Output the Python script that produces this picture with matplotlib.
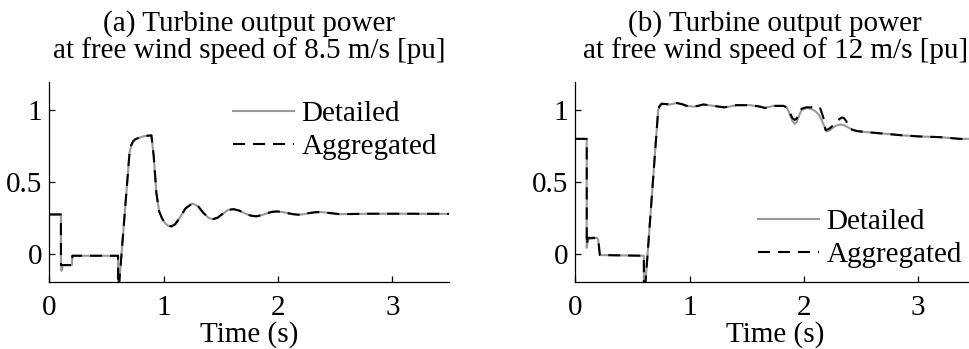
import numpy as np
import matplotlib
matplotlib.use("Agg")
import matplotlib.pyplot as plt

# ---- Panel (a): 8.5 m/s ----
t_a_det = [0, 0.1, 0.1, 0.105, 0.115, 0.196, 0.2, 0.6, 0.6005, 0.70, 0.715, 0.731, 0.75, 0.775, 0.819,
           0.86, 0.892, 0.912, 0.935, 0.959, 0.985, 1.009, 1.035, 1.067, 1.10, 1.14, 1.19, 1.25, 1.30,
           1.345, 1.39, 1.43, 1.47, 1.52, 1.565, 1.61, 1.66, 1.71, 1.76, 1.81, 1.855, 1.90, 1.945, 1.99,
           2.035, 2.08, 2.13, 2.18, 2.225, 2.27, 2.32, 2.37, 2.45, 2.54, 2.8, 3.1, 3.5]
p_a_det = [0.273, 0.273, -0.05, -0.12, -0.08, -0.08, -0.015, -0.015, -0.30, 0.70, 0.755, 0.782, 0.797, 0.805, 0.817,
           0.822, 0.824, 0.678, 0.424, 0.296, 0.245, 0.215, 0.195, 0.19, 0.205, 0.25, 0.315, 0.35, 0.33,
           0.285, 0.25, 0.24, 0.25, 0.28, 0.305, 0.31, 0.30, 0.28, 0.265, 0.26, 0.268, 0.28, 0.291, 0.294,
           0.29, 0.283, 0.275, 0.271, 0.275, 0.282, 0.288, 0.29, 0.283, 0.275, 0.278, 0.278, 0.277]

t_a_agg = [0, 0.1, 0.1, 0.196, 0.2, 0.6, 0.6005, 0.70, 0.715, 0.731, 0.75, 0.775, 0.819,
           0.86, 0.892, 0.912, 0.935, 0.959, 0.985, 1.009, 1.035, 1.067, 1.10, 1.14, 1.19, 1.25, 1.30,
           1.345, 1.39, 1.43, 1.47, 1.52, 1.565, 1.61, 1.66, 1.71, 1.76, 1.81, 1.855, 1.90, 1.945, 1.99,
           2.035, 2.08, 2.13, 2.18, 2.225, 2.27, 2.32, 2.37, 2.45, 2.54, 2.8, 3.1, 3.5]
p_a_agg = [0.273, 0.273, -0.08, -0.08, -0.015, -0.015, -0.30, 0.70, 0.755, 0.782, 0.797, 0.805, 0.817,
           0.822, 0.824, 0.678, 0.424, 0.296, 0.245, 0.215, 0.195, 0.19, 0.205, 0.25, 0.315, 0.35, 0.33,
           0.285, 0.25, 0.24, 0.25, 0.28, 0.305, 0.31, 0.30, 0.28, 0.265, 0.26, 0.268, 0.28, 0.291, 0.294,
           0.29, 0.283, 0.275, 0.271, 0.275, 0.282, 0.288, 0.29, 0.283, 0.275, 0.278, 0.278, 0.277]

# ---- Panel (b): 12 m/s ----
t_b_det = [0, 0.1, 0.1, 0.11, 0.19, 0.2, 0.215, 0.6, 0.6005, 0.725, 0.735, 0.755, 0.829, 0.887, 0.93, 0.975,
           1.03, 1.075, 1.12, 1.21, 1.30, 1.35, 1.41, 1.53, 1.616, 1.66, 1.73, 1.82, 1.85, 1.868, 1.884, 1.90, 1.92,
           1.935, 1.95, 1.965, 1.98, 2.02, 2.06, 2.097, 2.13, 2.156, 2.18, 2.2, 2.23, 2.257, 2.29, 2.32, 2.35,
           2.375, 2.43, 2.50, 2.578, 2.72, 2.87, 3.01, 3.19, 3.366, 3.5]
p_b_det = [0.80, 0.80, 0.04, 0.10, 0.11, 0.10, -0.01, -0.015, -0.35, 1.00, 1.025, 1.045, 1.04, 1.05, 1.043, 1.03,
           1.025, 1.03, 1.04, 1.03, 1.02, 1.025, 1.035, 1.035, 1.025, 1.015, 1.03, 1.03, 1.02, 0.99, 0.955, 0.925, 0.905,
           0.915, 0.945, 0.975, 1.0, 1.015, 1.01, 0.995, 0.97, 0.93, 0.885, 0.852, 0.862, 0.88, 0.895, 0.90, 0.895,
           0.885, 0.862, 0.85, 0.845, 0.835, 0.824, 0.817, 0.812, 0.80, 0.80]

t_b_agg = [0, 0.1, 0.1, 0.11, 0.19, 0.2, 0.215, 0.6, 0.6005, 0.725, 0.735, 0.755, 0.829, 0.887, 0.93, 0.975,
           1.03, 1.075, 1.12, 1.21, 1.30, 1.35, 1.41, 1.53, 1.616, 1.66, 1.73, 1.82, 1.85, 1.868, 1.884, 1.90, 1.92,
           1.935, 1.95, 1.965, 1.98, 2.02, 2.08, 2.14, 2.17, 2.19, 2.22, 2.25, 2.28, 2.30, 2.33, 2.35, 2.37,
           2.40, 2.46, 2.578, 2.72, 2.87, 3.01, 3.19, 3.366, 3.5]
p_b_agg = [0.80, 0.80, 0.06, 0.11, 0.11, 0.10, -0.01, -0.015, -0.35, 1.00, 1.025, 1.045, 1.04, 1.05, 1.043, 1.03,
           1.025, 1.03, 1.04, 1.03, 1.02, 1.025, 1.035, 1.035, 1.025, 1.015, 1.03, 1.03, 1.02, 1.0, 0.97, 0.945, 0.932,
           0.94, 0.96, 0.99, 1.01, 1.02, 1.02, 1.02, 0.95, 0.86, 0.87, 0.89, 0.915, 0.93, 0.949, 0.945, 0.925,
           0.87, 0.855, 0.845, 0.835, 0.824, 0.817, 0.812, 0.80, 0.80]

titles = ["(a) Turbine output power\nat free wind speed of 8.5 m/s [pu]",
          "(b) Turbine output power\nat free wind speed of 12 m/s [pu]"]
labels = ["Detailed", "Aggregated"]
xticks = [0, 1, 2, 3]
yticks = [0, 0.5, 1]
yticklabels = ["0", "0.5", "1"]

plt.rcParams['font.family'] = ['Liberation Serif', 'DejaVu Serif']
FS = 21

W, H = 970, 349
fig = plt.figure(figsize=(W / 100, H / 100), dpi=100)

ax_w = 400 / W
ax_h = (282.3 - 81.5) / H
ax_b = (H - 282.3) / H
axes = [fig.add_axes([49.5 / W, ax_b, ax_w, ax_h]),
        fig.add_axes([575.3 / W, ax_b, ax_w, ax_h])]

data = [(t_a_det, p_a_det, t_a_agg, p_a_agg), (t_b_det, p_b_det, t_b_agg, p_b_agg)]
leg_anchor = [(233 / W, 1 - 101 / H), (758 / W, 1 - 209 / H)]

for i, ax in enumerate(axes):
    td, pd_, tg, pg = data[i]
    ax.plot(td, pd_, color='#999999', lw=1.5, label=labels[0], solid_joinstyle='round')
    ax.plot(tg, pg, color='black', lw=1.5, dashes=(5.8, 3.8), label=labels[1])
    ax.set_xlim(0, 3.5)
    ax.set_ylim(-0.2, 1.2)
    ax.set_xticks(xticks)
    ax.set_yticks(yticks)
    ax.set_yticklabels(yticklabels)
    ax.spines['top'].set_visible(False)
    ax.spines['right'].set_visible(False)
    for s in ['left', 'bottom']:
        ax.spines[s].set_linewidth(0.9)
    ax.tick_params(direction='in', length=4, width=0.9, labelsize=FS)
    ax.tick_params(axis='x', pad=9)
    ax.tick_params(axis='y', pad=5)
    ax.set_xlabel("Time (s)", fontsize=FS, labelpad=0)
    ax.set_title(titles[i], fontsize=FS, pad=17, linespacing=0.98)
    leg = ax.legend(loc='upper left', bbox_to_anchor=leg_anchor[i], bbox_transform=fig.transFigure,
                    frameon=False, fontsize=FS, handlelength=2.1, handletextpad=0.25,
                    labelspacing=0.22, borderpad=0, borderaxespad=0)

fig.savefig("out.png", dpi=100)
